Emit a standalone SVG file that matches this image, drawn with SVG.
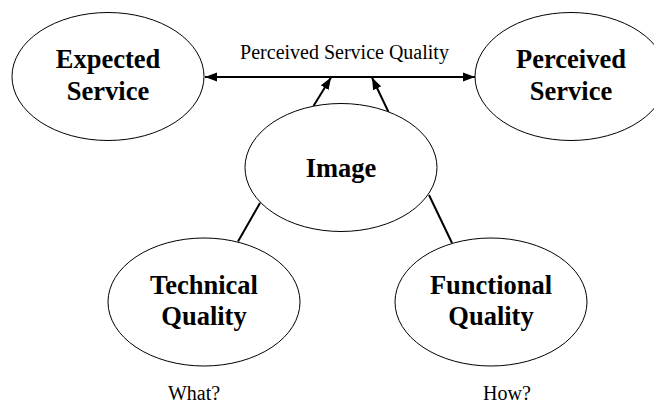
<svg xmlns="http://www.w3.org/2000/svg" width="654" height="403" viewBox="0 0 654 403">
  <style>
    .node ellipse { fill: #ffffff; stroke: #000000; stroke-width: 1; }
    .lbl { font-family: "Liberation Serif", "Times New Roman", serif; font-weight: bold; font-size: 26.5px; fill: #000000; text-anchor: middle; }
    .note { font-family: "Liberation Serif", "Times New Roman", serif; font-size: 20px; fill: #000000; text-anchor: middle; }
    .conn line { stroke: #000000; stroke-width: 2; fill: none; }
  </style>
  <defs>
    <marker id="arrow" markerUnits="userSpaceOnUse" markerWidth="12" markerHeight="10" refX="12" refY="5" orient="auto-start-reverse" viewBox="0 0 12 10">
      <path d="M0,0.5 L12,5 L0,9.5 z" fill="#000000"/>
    </marker>
  </defs>
  <rect x="0" y="0" width="654" height="403" fill="#ffffff"/>

  <g id="connectors" class="conn">
    <line x1="205" y1="77" x2="475" y2="77" marker-start="url(#arrow)" marker-end="url(#arrow)"/>
    <line x1="313.5" y1="106" x2="331" y2="77.5" marker-end="url(#arrow)"/>
    <line x1="388.5" y1="112" x2="372" y2="77.5" marker-end="url(#arrow)"/>
    <line x1="260" y1="203" x2="238" y2="241.5"/>
    <line x1="429" y1="195" x2="452" y2="243"/>
  </g>

  <g id="expected-service" class="node">
    <ellipse cx="108" cy="76.5" rx="96" ry="64"/>
    <text class="lbl" x="108" y="68">Expected</text>
    <text class="lbl" x="108" y="100">Service</text>
  </g>

  <g id="perceived-service" class="node">
    <ellipse cx="571" cy="76.5" rx="96" ry="64"/>
    <text class="lbl" x="571" y="68">Perceived</text>
    <text class="lbl" x="571" y="100">Service</text>
  </g>

  <g id="image" class="node">
    <ellipse cx="341" cy="167.5" rx="96" ry="64"/>
    <text class="lbl" x="341" y="177">Image</text>
  </g>

  <g id="technical-quality" class="node">
    <ellipse cx="204" cy="302" rx="96" ry="64"/>
    <text class="lbl" x="204" y="294">Technical</text>
    <text class="lbl" x="204" y="325">Quality</text>
  </g>

  <g id="functional-quality" class="node">
    <ellipse cx="491" cy="302" rx="96" ry="64"/>
    <text class="lbl" x="491" y="294">Functional</text>
    <text class="lbl" x="491" y="325">Quality</text>
  </g>

  <g id="annotations">
    <text class="note" x="344.5" y="59">Perceived Service Quality</text>
    <text class="note" x="194" y="400">What?</text>
    <text class="note" x="507" y="400">How?</text>
  </g>
</svg>
